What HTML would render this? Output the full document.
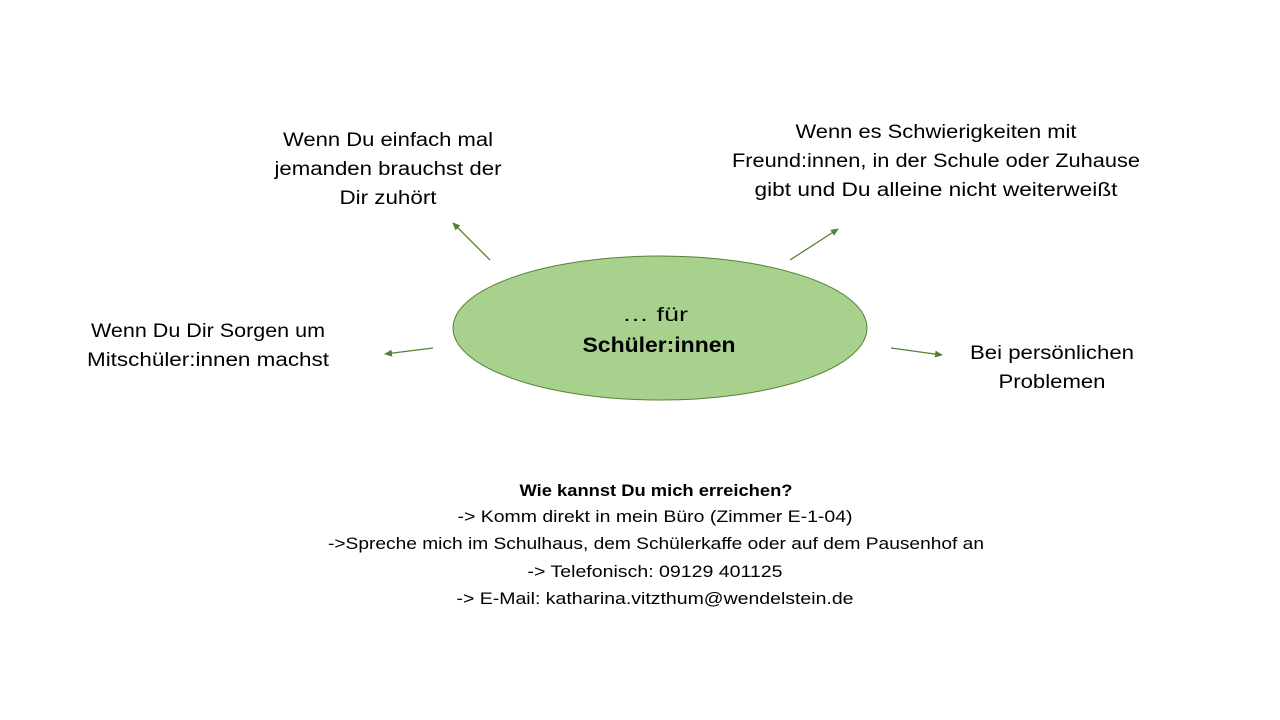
<!DOCTYPE html>
<html><head><meta charset="utf-8"><style>html,body{margin:0;padding:0;background:#fff;}svg{display:block}</style></head>
<body>
<svg width="1280" height="720" viewBox="0 0 1280 720" xmlns="http://www.w3.org/2000/svg" font-family="'Liberation Sans', sans-serif" fill="#000">
<defs><marker id="a" markerWidth="8" markerHeight="8" refX="7" refY="4" orient="auto" markerUnits="userSpaceOnUse"><path d="M0,0.5 L8,4 L0,7.5z" fill="#548235"/></marker></defs>
<ellipse cx="660" cy="328" rx="207" ry="72" fill="#a9d18e" stroke="#548235" stroke-width="1"/>
<g stroke="#548235" stroke-width="1.3" marker-end="url(#a)">
<line x1="490" y1="260" x2="453" y2="223"/>
<line x1="790" y1="260" x2="838" y2="229"/>
<line x1="433" y1="348" x2="385" y2="354"/>
<line x1="891" y1="348" x2="942" y2="355"/>
</g>
<g font-size="19" text-anchor="middle" lengthAdjust="spacingAndGlyphs">
<text x="388" y="146" textLength="210" lengthAdjust="spacingAndGlyphs">Wenn Du einfach mal</text>
<text x="388" y="175" textLength="227" lengthAdjust="spacingAndGlyphs">jemanden brauchst der</text>
<text x="388" y="204" textLength="97" lengthAdjust="spacingAndGlyphs">Dir zuhört</text>
<text x="936" y="138" textLength="281" lengthAdjust="spacingAndGlyphs">Wenn es Schwierigkeiten mit</text>
<text x="936" y="167" textLength="408" lengthAdjust="spacingAndGlyphs">Freund:innen, in der Schule oder Zuhause</text>
<text x="936" y="196" textLength="363" lengthAdjust="spacingAndGlyphs">gibt und Du alleine nicht weiterweißt</text>
<text x="208" y="337" textLength="234" lengthAdjust="spacingAndGlyphs">Wenn Du Dir Sorgen um</text>
<text x="208" y="366" textLength="242" lengthAdjust="spacingAndGlyphs">Mitschüler:innen machst</text>
<text x="1052" y="359" textLength="164" lengthAdjust="spacingAndGlyphs">Bei persönlichen</text>
<text x="1052" y="388" textLength="107" lengthAdjust="spacingAndGlyphs">Problemen</text>
<text x="655" y="321" textLength="66" lengthAdjust="spacingAndGlyphs">… für</text>
<text x="659" y="352" font-weight="bold" font-size="21" textLength="153" lengthAdjust="spacingAndGlyphs">Schüler:innen</text>
</g>
<g font-size="16.5" text-anchor="middle">
<text x="656" y="496" font-weight="bold" textLength="273" lengthAdjust="spacingAndGlyphs">Wie kannst Du mich erreichen?</text>
<text x="655" y="522" textLength="395" lengthAdjust="spacingAndGlyphs">-&gt; Komm direkt in mein Büro (Zimmer E-1-04)</text>
<text x="656" y="549" textLength="656" lengthAdjust="spacingAndGlyphs">-&gt;Spreche  mich im Schulhaus, dem Schülerkaffe oder auf dem Pausenhof an</text>
<text x="655" y="577" textLength="255" lengthAdjust="spacingAndGlyphs">-&gt; Telefonisch: 09129 401125</text>
<text x="655" y="604" textLength="397" lengthAdjust="spacingAndGlyphs">-&gt; E-Mail: katharina.vitzthum@wendelstein.de</text>
</g>
</svg>
</body></html>
